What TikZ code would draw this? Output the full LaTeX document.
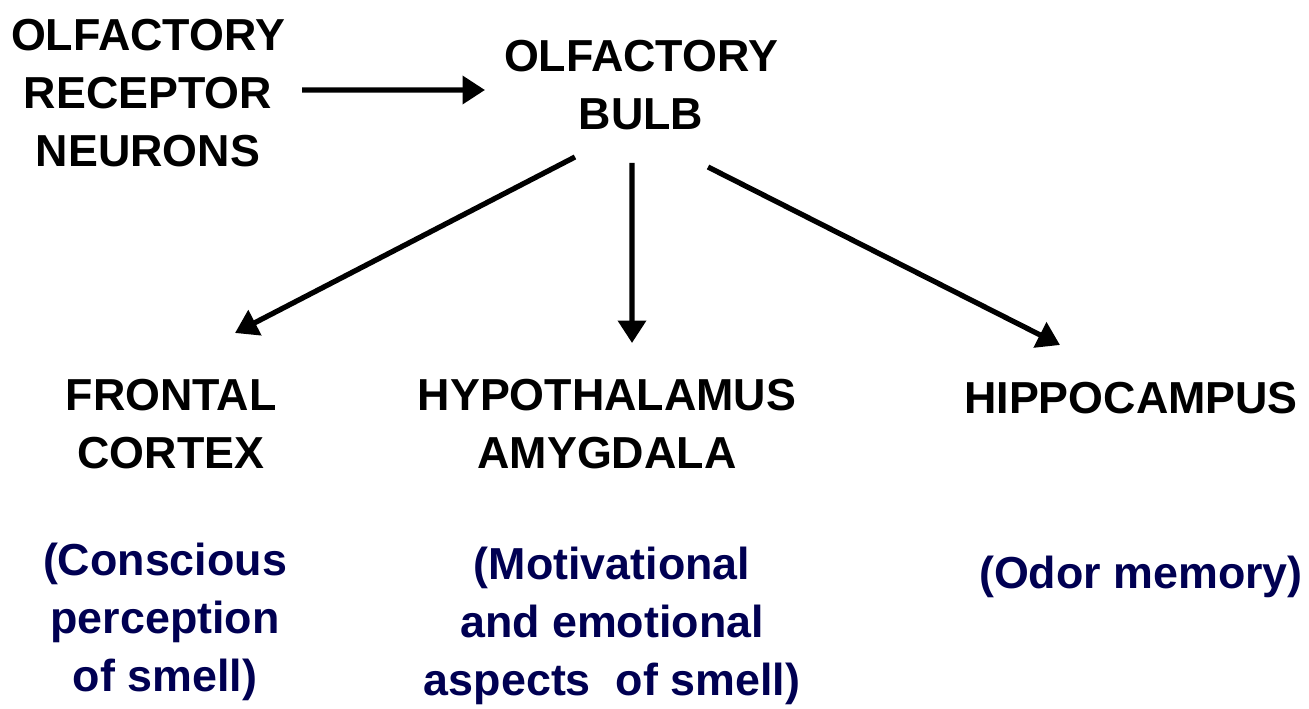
\documentclass[tikz,border=0pt]{standalone}
\usepackage{fontspec}
\setmainfont{Liberation Sans}
\usepackage{xcolor}
\usetikzlibrary{arrows.meta, positioning, calc}

\definecolor{notenavy}{RGB}{0,0,82}

\begin{document}
\begin{tikzpicture}[
    area/.style={font=\fontsize{25.5}{33}\selectfont\bfseries, align=center, inner sep=0pt},
    role/.style={area, text=notenavy},
    arrow/.style={-{Triangle[length=0.45cm, width=0.55cm]}, line width=3pt}
]
\useasboundingbox (0,0) rectangle (26.18,-14.18);

\node[area] (receptor) at (2.96,-1.86) {OLFACTORY\\RECEPTOR\\NEURONS};
\node[area] (bulb) at (12.82,-1.70) {OLFACTORY\\BULB};
\node[area] (frontal) at (3.42,-8.48) {FRONTAL\\CORTEX};
\node[area] (hypo) at (12.14,-8.48) {HYPOTHALAMUS\\AMYGDALA};
\node[area] (hippo) at (22.62,-7.96) {HIPPOCAMPUS};

\node[role] (conscious) at (3.30,-12.44) {(Conscious\\perception\\of smell)};
\node[role] (motiv) at (12.24,-12.52) {(Motivational\\and emotional\\aspects\ \ of smell)};
\node[role] (odor) at (22.82,-11.54) {(Odor memory)};

\draw[arrow] ($(receptor)+(3.08,0.06)$) -- ($(bulb)+(-3.12,-0.10)$);
\draw[arrow] ($(bulb)+(-1.32,-1.44)$) -- ($(frontal)+(1.28,1.82)$);
\draw[arrow] ($(bulb)+(-0.18,-1.56)$) -- ($(hypo)+(0.50,1.62)$);
\draw[arrow] ($(bulb)+(1.34,-1.64)$) -- ($(hippo)+(-1.42,1.06)$);

\end{tikzpicture}
\end{document}
